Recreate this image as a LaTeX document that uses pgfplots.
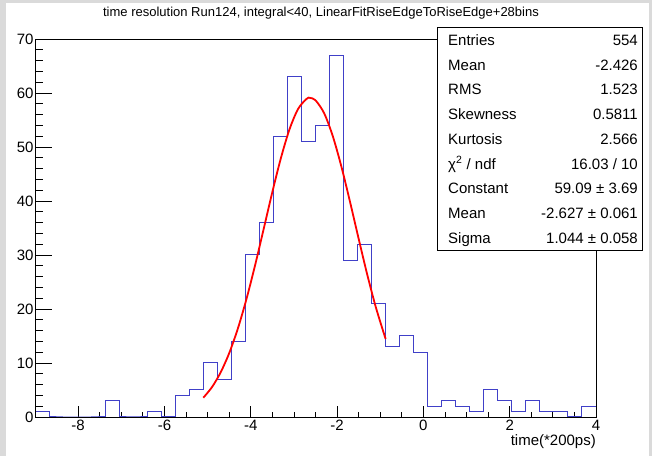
\documentclass[border=0pt]{standalone}
\usepackage{fontspec}
\setmainfont{Liberation Sans}
\usepackage{pgfplots}
\pgfplotsset{compat=1.18}
\definecolor{histblue}{RGB}{64,64,200}
\definecolor{bggray}{RGB}{218,218,218}
\newcommand{\fs}{\fontsize{15bp}{18bp}\selectfont}
\begin{document}
\begin{tikzpicture}[x=1bp,y=1bp]
\fill[bggray] (0,0) rectangle (652,456);
\fill[white] (6,0) rectangle (649,453);
\useasboundingbox (0,0) rectangle (652,456);
\begin{axis}[at={(35bp,39bp)}, anchor=south west, scale only axis,
  width=561bp, height=378bp,
  xmin=-9, xmax=4, ymin=0, ymax=70,
  xtick={-8,-6,-4,-2,0,2,4}, minor x tick num=3,
  ytick=\empty, xtick pos=left,
  tick align=inside, major tick length=10.5bp, minor tick length=5bp,
  tick style={black, line width=0.8bp},
  axis line style={black, line width=0.8bp},
  /pgf/number format/assume math mode=true,
  xticklabel style={font=\fs},
  xlabel={time(*200ps)},
  xlabel style={at={(axis description cs:1,-0.065)}, anchor=east, inner sep=0pt, font=\fs},
]
\addplot[histblue, line width=1bp, const plot mark left, no marks] coordinates {
(-9,1) (-8.675,0) (-8.35,0) (-8.025,0) (-7.7,0) (-7.375,3) (-7.05,0) (-6.725,0)
(-6.4,1) (-6.075,0) (-5.75,4) (-5.425,5) (-5.1,10) (-4.775,7) (-4.45,14)
(-4.125,30) (-3.8,36) (-3.475,52) (-3.15,63) (-2.825,51) (-2.5,54) (-2.175,67)
(-1.85,29) (-1.525,32) (-1.2,21) (-0.875,13) (-0.55,15) (-0.225,12) (0.1,2)
(0.425,3) (0.75,2) (1.075,1) (1.4,5) (1.725,3) (2.05,1) (2.375,3) (2.7,1)
(3.025,1) (3.35,0) (3.675,2) (4,2)
};
\addplot[red, line width=1.8bp, smooth, no marks] coordinates {
(-5.1,3.57) (-4.9,5.52) (-4.7,8.23) (-4.5,11.82) (-4.3,16.36) (-4.1,21.84)
(-3.9,28.10) (-3.7,34.85) (-3.5,41.66) (-3.3,48.00) (-3.1,53.33) (-2.9,57.10)
(-2.7,58.95) (-2.627,59.09) (-2.5,58.65) (-2.3,56.26) (-2.1,52.02) (-1.9,46.37)
(-1.7,39.84) (-1.5,33.00) (-1.3,26.34) (-1.1,20.27) (-0.875,14.45)
};
\end{axis}
\begin{axis}[at={(35bp,39bp)}, anchor=south west, scale only axis,
  width=561bp, height=378bp,
  xmin=-9, xmax=4, ymin=0, ymax=70,
  axis x line=none, axis y line*=left,
  ytick={0,10,...,70}, minor y tick num=4,
  tick align=inside, major tick length=16.5bp, minor tick length=8bp,
  tick style={black, line width=0.8bp},
  axis line style={black, line width=0.8bp},
  /pgf/number format/assume math mode=true,
  yticklabel style={font=\fs, xshift=2bp},
]
\addplot[draw=none] coordinates {(0,0)};
\end{axis}
\node[font=\fontsize{13bp}{15bp}\selectfont, anchor=base] at (321,439) {time resolution Run124, integral<40, LinearFitRiseEdgeToRiseEdge+28bins};
\draw[black, line width=0.8bp, fill=white] (437,206) rectangle (642,429);
\begin{scope}[every node/.style={font=\fs, inner sep=0pt}]
\node[anchor=base west] at (448,410.6) {Entries};   \node[anchor=base east] at (638,410.6) {554};
\node[anchor=base west] at (448,385.85) {Mean};    \node[anchor=base east] at (638,385.85) {-2.426};
\node[anchor=base west] at (448,361.1) {RMS};      \node[anchor=base east] at (638,361.1) {1.523};
\node[anchor=base west] at (448,336.35) {Skewness}; \node[anchor=base east] at (638,336.35) {0.5811};
\node[anchor=base west] at (448,311.6) {Kurtosis}; \node[anchor=base east] at (638,311.6) {2.566};
\node[anchor=base west] at (448,286.85) {χ\textsuperscript{2} / ndf}; \node[anchor=base east] at (638,286.85) {16.03 / 10};
\node[anchor=base west] at (448,262.1) {Constant}; \node[anchor=base east] at (638,262.1) {59.09 ± 3.69};
\node[anchor=base west] at (448,237.35) {Mean};    \node[anchor=base east] at (638,237.35) {-2.627 ± 0.061};
\node[anchor=base west] at (448,212.6) {Sigma};    \node[anchor=base east] at (638,212.6) {1.044 ± 0.058};
\end{scope}
\end{tikzpicture}
\end{document}
